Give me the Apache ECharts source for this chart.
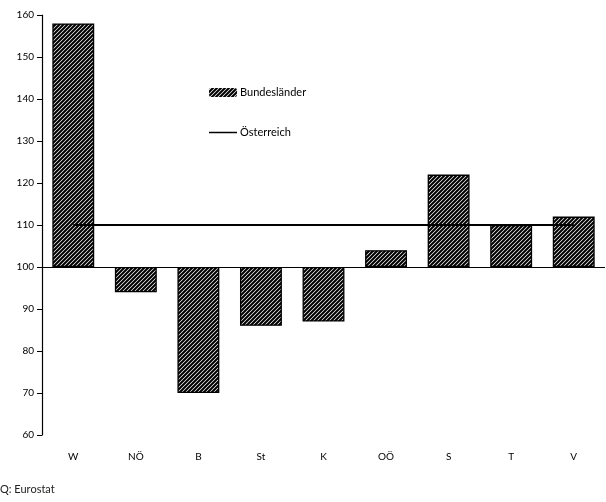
<!DOCTYPE html>
<html><head><meta charset="utf-8">
<script src="https://cdn.jsdelivr.net/npm/echarts@6/dist/echarts.min.js"></script>
<style>html,body{margin:0;padding:0;background:#fff}#c{width:606px;height:502px}</style>
</head><body><div id="c"></div>
<script>
const categories = ['W','NÖ','B','St','K','OÖ','S','T','V'];
const bundeslaender = [158, 94, 70, 86, 87, 104, 122, 110, 112];
const oesterreich = 110;
const baseline = 100;
const yTicks = {min: 60, max: 160, interval: 10};

function hatch(){
  const c = document.createElement('canvas');
  const s = 4; c.width = s; c.height = s;
  const g = c.getContext('2d');
  g.fillStyle = '#fff'; g.fillRect(0,0,s,s);
  g.strokeStyle = '#000'; g.lineWidth = 2.1;
  g.beginPath();
  g.moveTo(-1, s+1); g.lineTo(s+1, -1);
  g.moveTo(-1, 1); g.lineTo(1, -1);
  g.moveTo(s-1, s+1); g.lineTo(s+1, s-1);
  g.stroke();
  return c;
}
const pat = {image: hatch(), repeat: 'repeat'};

const baseVals = bundeslaender.map(v => Math.min(v, baseline));
const diffVals = bundeslaender.map(v => Math.abs(v - baseline));
const lineVals = categories.map(() => oesterreich);

const font = 'Lato, "DejaVu Sans", sans-serif';
const chart = echarts.init(document.getElementById('c'), null, {renderer: 'canvas'});
chart.setOption({
  animation: false,
  backgroundColor: '#fff',
  grid: {left: 42, right: 1, top: 15, bottom: 67},
  legend: {
    orient: 'vertical', left: 204, top: 82, itemGap: 29,
    itemWidth: 28, itemHeight: 9,
    textStyle: {fontFamily: font, fontSize: 11, color: '#000', padding: [0,0,0,-2]},
    data: [{name: 'Bundesländer', itemStyle: {color: pat, borderWidth: 0}}, {name: 'Österreich', icon: 'path://M0,0 L28,0 L28,1.5 L0,1.5 Z', itemStyle: {color: '#000'}}]
  },
  xAxis: {
    type: 'category', data: categories,
    axisLine: {show: false}, axisTick: {show: false},
    axisLabel: {margin: 17, fontFamily: font, fontSize: 10, color: '#000'}
  },
  yAxis: {
    type: 'value', min: yTicks.min, max: yTicks.max, interval: yTicks.interval,
    splitLine: {show: false},
    axisLine: {show: true, lineStyle: {color: '#000', width: 1.2}},
    axisTick: {show: true, length: 5, lineStyle: {color: '#000'}},
    axisLabel: {fontFamily: font, fontSize: 10, color: '#000', margin: 8}
  },
  series: [
    {name: 'base', type: 'bar', stack: 'b', data: baseVals, barWidth: '67%',
     itemStyle: {color: 'rgba(0,0,0,0)'}, silent: true,
     markLine: {symbol: 'none', silent: true, label: {show: false},
       lineStyle: {color: '#000', width: 1.2, type: 'solid'},
       data: [{yAxis: baseline}]}},
    {name: 'Bundesländer', type: 'bar', stack: 'b', data: diffVals,
     itemStyle: {color: pat, borderColor: '#000', borderWidth: 1.3}},
    {name: 'Österreich', type: 'line', data: lineVals, symbol: 'none',
     lineStyle: {color: '#000', width: 1.8}, z: 5}
  ],
  graphic: [{type: 'text', left: 0, top: 484, style: {text: 'Q: Eurostat', font: '11px ' + font, fill: '#222'}}]
});
</script></body></html>
